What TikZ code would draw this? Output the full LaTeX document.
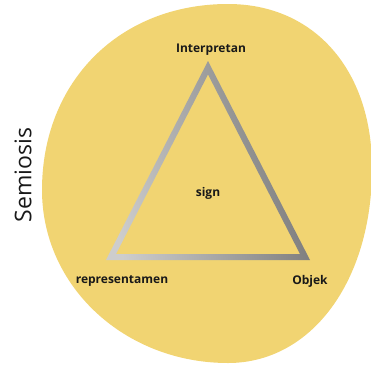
\documentclass[tikz,border=0pt]{standalone}
\usepackage{fontspec}
\setmainfont{Open Sans}
\usetikzlibrary{calc}
\definecolor{disc}{RGB}{241,212,114}
\definecolor{silverlight}{RGB}{205,205,205}
\definecolor{silverdark}{RGB}{120,120,120}
\tikzset{
  lbl/.style={font=\fontsize{12}{14}\selectfont\bfseries, text=black!90, inner sep=0pt},
  side/.style={font=\fontsize{23}{26}\selectfont, text=black!90, inner sep=0pt},
}
\begin{document}
\begin{tikzpicture}[x=1pt,y=-1pt]
\useasboundingbox (0,0) rectangle (371,364);
\begin{scope}
\clip (0,0) rectangle (371,364);
\fill[disc] (228,4) .. controls (314,4) and (372,69.6) .. (372,168)
  .. controls (372,281) and (311.5,363) .. (228,363)
  .. controls (125.3,363) and (42,287) .. (42,190)
  .. controls (42,82) and (119,4) .. (228,4) -- cycle;
\end{scope}
% triangle corners (outer and inner edge of the stroke)
\coordinate (A) at (208,61);
\coordinate (B) at (106,260);
\coordinate (C) at (310,260);
\coordinate (Ai) at (208,74.5);
\coordinate (Bi) at (116,254);
\coordinate (Ci) at (300,254);
\shade[even odd rule, left color=silverlight, right color=silverdark, shading angle=100]
  (A) -- (B) -- (C) -- cycle (Ai) -- (Bi) -- (Ci) -- cycle;
\node[lbl] (interp) at (211,50) {Interpretan};
\node[lbl] (sign) at (208,193) {sign};
\node[lbl] (repr) at (122,281) {representamen};
\node[lbl] (obj) at (310,281) {Objek};
\node[side, rotate=90] (semi) at (23,175) {Semiosis};
\end{tikzpicture}
\end{document}
